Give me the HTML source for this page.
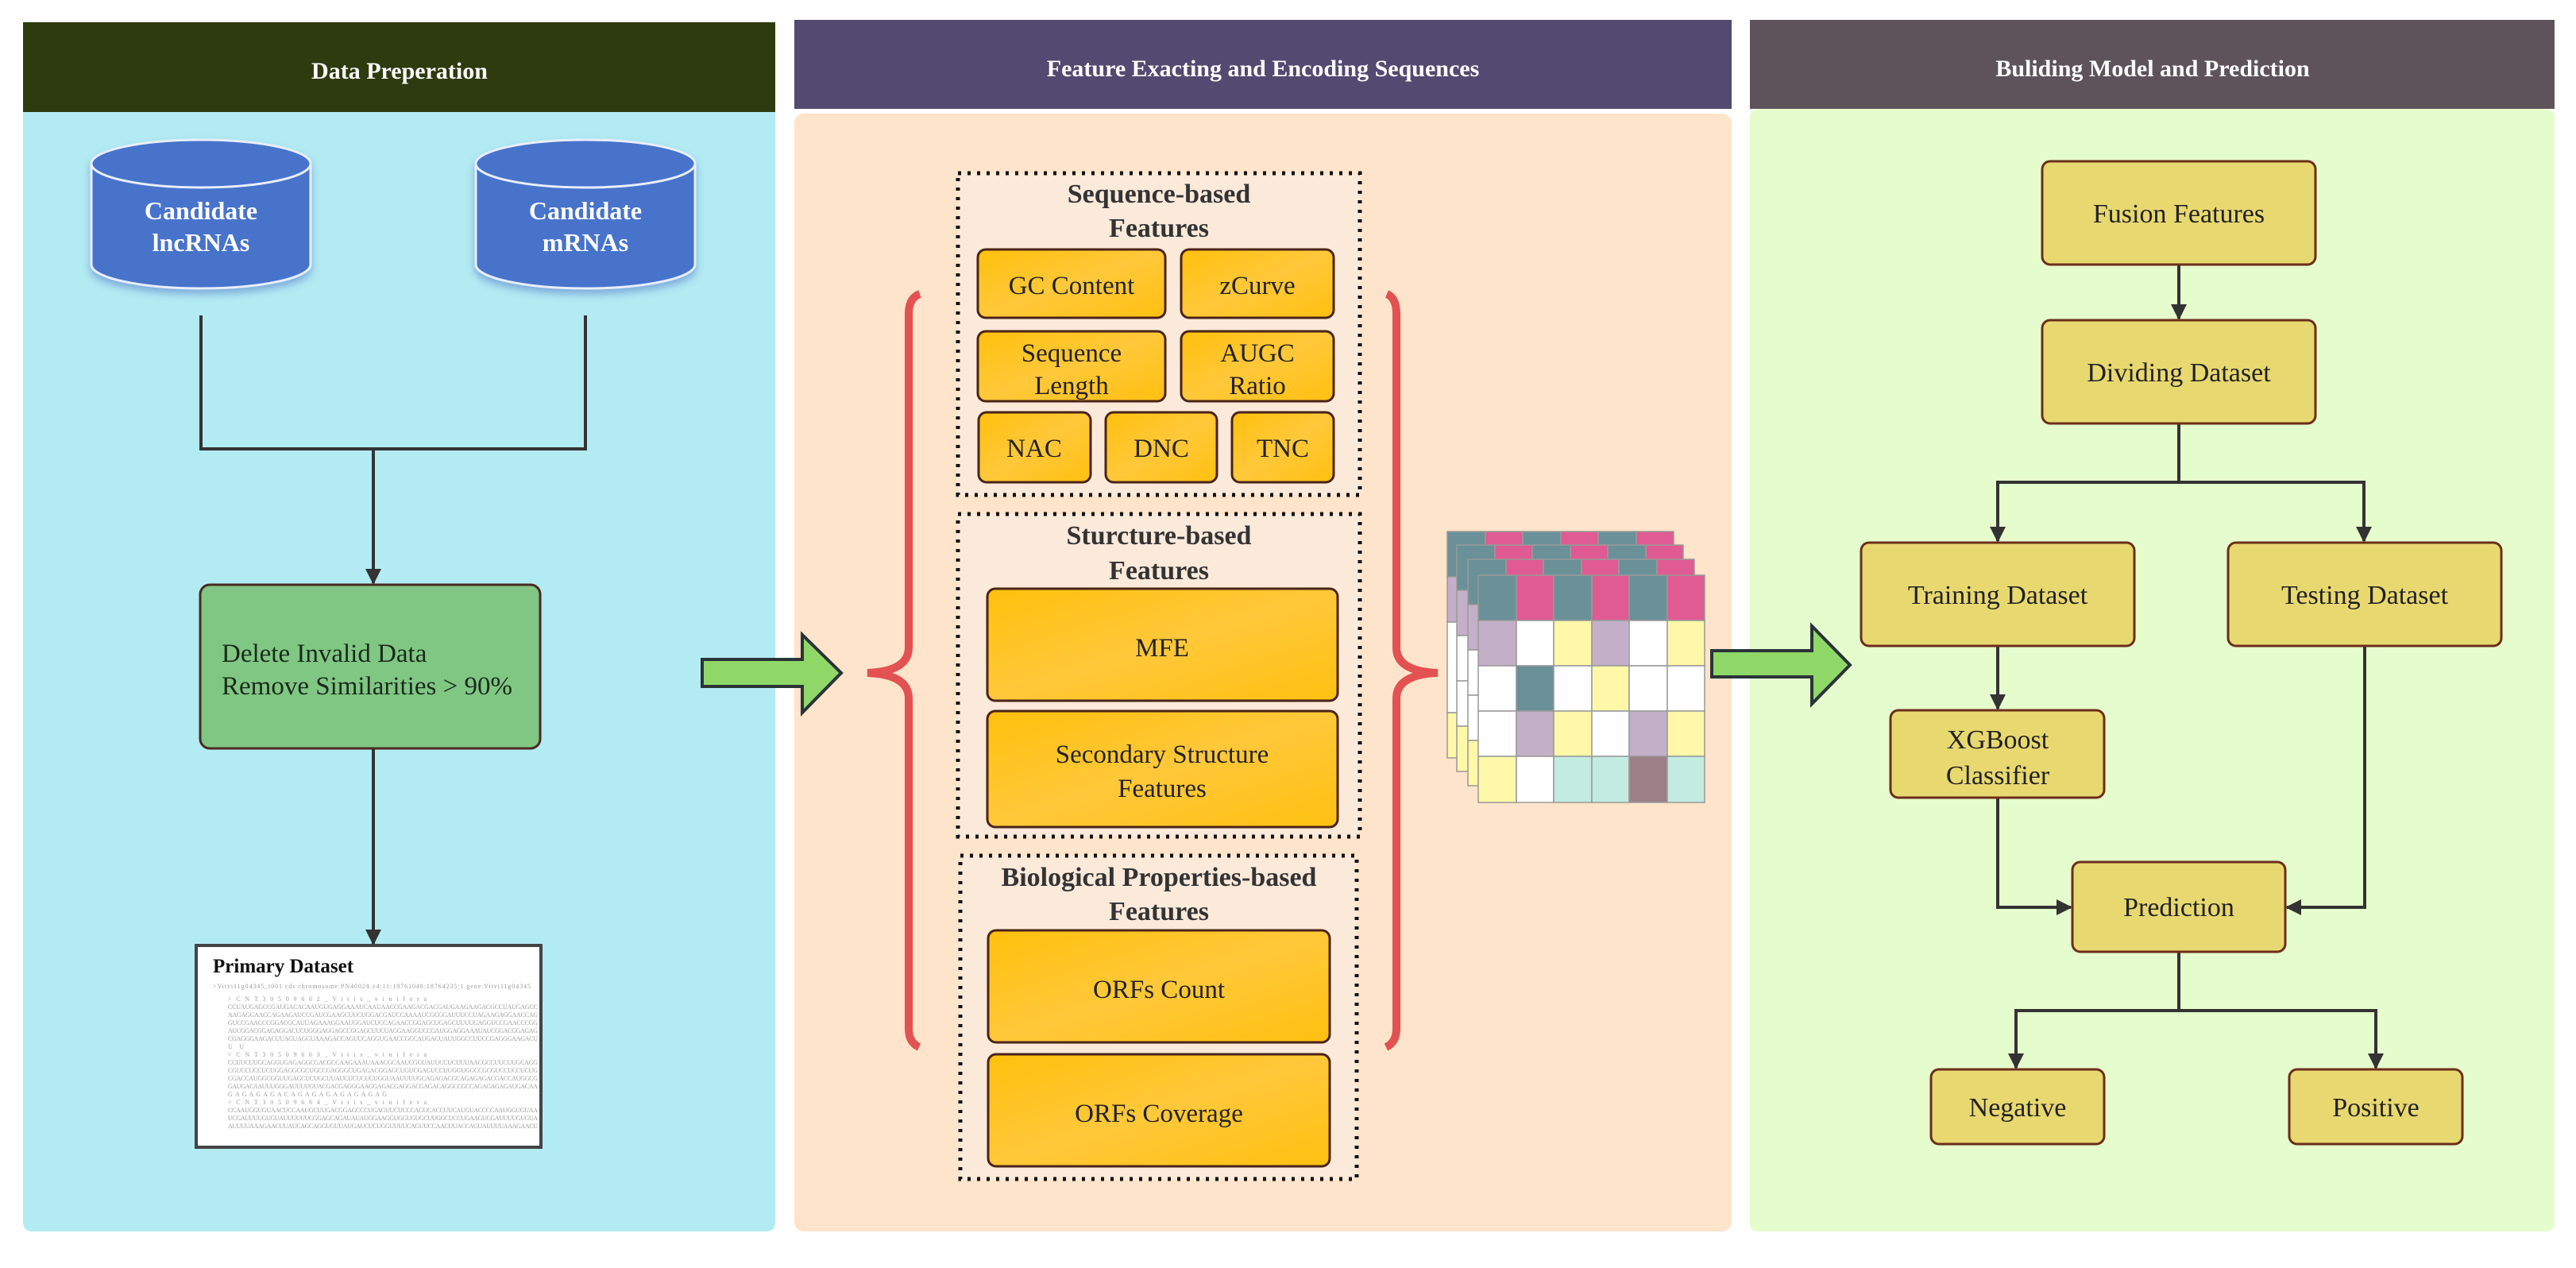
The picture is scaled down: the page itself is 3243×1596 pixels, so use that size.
<!DOCTYPE html>
<html><head><meta charset="utf-8"><style>
html,body{margin:0;padding:0;background:#fff}
svg{display:block}
svg text{font-family:"Liberation Serif","Times New Roman",Times,serif}
</style></head><body>
<svg width="3243" height="1596" viewBox="0 0 3243 1596" xmlns="http://www.w3.org/2000/svg" font-family="'Liberation Serif', 'Times New Roman', serif">
<defs>
<linearGradient id="og" x1="0" y1="0" x2="1" y2="1"><stop offset="0" stop-color="#ffc00c"/><stop offset="0.5" stop-color="#ffc83a"/><stop offset="1" stop-color="#ffc010"/></linearGradient>
<marker id="ah" viewBox="0 0 10 10" refX="9" refY="5" markerWidth="5" markerHeight="5" orient="auto" markerUnits="strokeWidth"><path d="M0,0 L10,5 L0,10 Z" fill="#333"/></marker>
<filter id="sh" x="-10%" y="-10%" width="120%" height="130%"><feDropShadow dx="0" dy="6" stdDeviation="5" flood-color="#3a5fc0" flood-opacity="0.45"/></filter>
</defs>

<rect x="29" y="28" width="947" height="113" fill="#2d3b0f"/>
<path d="M29,141 H976 V1538 Q976,1550 964,1550 H41 Q29,1550 29,1538 Z" fill="#b3ebf2"/>
<text x="503" y="99" font-size="30" font-weight="bold" fill="#fff" text-anchor="middle" font-family="'Liberation Serif', serif">Data Preperation</text>

<rect x="1000" y="25" width="1180" height="112" fill="#524a70"/>
<rect x="1000" y="143" width="1180" height="1407" rx="12" fill="#fee4ca"/>
<text x="1590" y="96" font-size="30" font-weight="bold" fill="#fff" text-anchor="middle" font-family="'Liberation Serif', serif">Feature Exacting and Encoding Sequences</text>

<rect x="2203" y="25" width="1013" height="112" fill="#5e535b"/>
<rect x="2203" y="137" width="1013" height="1413" rx="10" fill="#e5fdcc"/>
<text x="2710" y="96" font-size="30" font-weight="bold" fill="#fff" text-anchor="middle" font-family="'Liberation Serif', serif">Buliding Model and Prediction</text>

<g filter="url(#sh)" fill="#4673cb" stroke="#e8eefb" stroke-width="3">
<path d="M115,206 V333 A138,30 0 0 0 391,333 V206"/>
<ellipse cx="253" cy="206" rx="138" ry="30"/>
<path d="M599,206 V333 A138,30 0 0 0 875,333 V206"/>
<ellipse cx="737" cy="206" rx="138" ry="30"/>
</g>
<g font-size="32" font-weight="bold" fill="#fff" text-anchor="middle" font-family="'Liberation Serif', serif">
<text x="253" y="276">Candidate</text><text x="253" y="316">lncRNAs</text>
<text x="737" y="276">Candidate</text><text x="737" y="316">mRNAs</text>
</g>

<g stroke="#333" stroke-width="4" fill="none">
<path d="M253,397 V565 H737 V397"/>
<path d="M470,565 V734" marker-end="url(#ah)"/>
<path d="M470,942 V1188" marker-end="url(#ah)"/>
</g>
<rect x="252" y="736" width="428" height="206" rx="12" fill="#80c784" stroke="#4a2a22" stroke-width="3"/>
<g font-family="'Liberation Serif', serif" font-size="33" fill="#1a2a1a">
<text x="279" y="833">Delete Invalid Data</text>
<text x="279" y="874">Remove Similarities &gt; 90%</text>
</g>

<rect x="247" y="1190" width="434" height="254" fill="#fff" stroke="#444" stroke-width="4"/>
<text x="268" y="1224" font-size="25" font-weight="bold" fill="#111" font-family="'Liberation Serif', serif">Primary Dataset</text>
<g font-family="'Liberation Sans',sans-serif" font-size="8" fill="#9a9a9a">
<text x="268" y="1244" textLength="400">&gt;Vitvi11g04345_t001 cds chromosome:PN40024.v4:11:18761048:18764235:1 gene:Vitvi11g04345</text>
<text x="287" y="1260" textLength="250">&gt;CNT30509662_Vitis_vinifera</text>
<text x="287" y="1270" textLength="390">CCUAUGAGCCGAUGACACAAUGUGAGGAAAUCAAUAACCGAAGACGACGAUGAAGAAGACGCCUAUGAGCC</text>
<text x="287" y="1280" textLength="390">AAGAGGAACCAGAAGAUCCGAUCGAAGCUUCUGGACGAUCCAAAAUCGCGGAUUUCCUAGAAGAGGAACCAG</text>
<text x="287" y="1290" textLength="390">GUCCGAACCCGGACGCAUUAGAAAGGAAUGGAUCUCCAGAACCGGAGCUGAGCUUUUGAGGUCCGAACCCGG</text>
<text x="287" y="1300" textLength="390">AUCGGACGGAGAGGACUCUGGGAGGAGCCGGAGCUUCUAGGAAGGUCCGAUGGAGGAAAUAUCGGACGGAGAG</text>
<text x="287" y="1310" textLength="390">CGAGGGAAGACUUAGUAGGUAAAGACCAGUUCAGGUGAACCGCCAUGACUAUUGGCCUUCCGAGGGAAGACU</text>
<text x="287" y="1320" textLength="20">UU</text>
<text x="287" y="1330" textLength="250">&gt;CNT30509663_Vitis_vinifera</text>
<text x="287" y="1340" textLength="390">CCUUCUUGCAGGUGAGAGGCGACGCCAAGAAAUAAACGCAAUCGGUAUUCCUCUUUAACGCCUUCUUGCAGG</text>
<text x="287" y="1350" textLength="390">CGUCCUCCUCUGGAGGCGCUGCCGAGGGCUGAGACGGAGCUGUCGAGUCCUUGGUGGCCGCGUCCUCCUCUG</text>
<text x="287" y="1360" textLength="390">CGACCAUGGCGGUUGAGCUCUGCUUAUCUCUCUCUGGUAAUUUUGCAGAGACGCAGAGAGACGACCAUGGCG</text>
<text x="287" y="1370" textLength="390">GAUGACAAUUUGGGAUUUUGUACGACGAGGGAAGGAGACGAGGACGAGACAGGCCGCCAGAGAGAGAUGACAA</text>
<text x="287" y="1380" textLength="200">GAGAGAGACAGAGAGAGAGAGAG</text>
<text x="287" y="1390" textLength="250">&gt;CNT30509664_Vitis_vinifera</text>
<text x="287" y="1400" textLength="390">CCAAUGGUGUAACUCCAAUGCUUGACGGAGCCCUGAGUUCUCCCAGUCACCUUCAUGUACCCCAAUGGUGUAA</text>
<text x="287" y="1410" textLength="390">UCGAUUUUGUGUAUUUUUUCGGAGCAGAUAUAUGGAAGGUGGUGUGCUUGGCUCCUGAAGUCGAUUUUGUGUA</text>
<text x="287" y="1420" textLength="390">AUUUUAAAGAACUUAUCAGCAGGUGUUAUGAUCUCUGGUUUUCAGUUCCAACUUACCAGUAUUUUAAAGAACU</text>
</g>

<path d="M884,830 H1010 V799 L1059,847 L1010,897 V864 H884 Z" fill="#8fd868" stroke="#2a3338" stroke-width="4"/>
<path d="M2155,819 H2281 V788 L2329,837 L2281,886 V852 H2155 Z" fill="#8fd868" stroke="#2a3338" stroke-width="4"/>

<g fill="none" stroke="#e25252" stroke-width="10" stroke-linecap="butt">
<path d="M1158,370 Q1144,375 1144,395 V815 Q1144,845 1092,847 Q1144,849 1144,879 V1295 Q1144,1312 1157,1318"/>
<path d="M1746,370 Q1758,375 1758,395 V815 Q1758,845 1810,847 Q1758,849 1758,879 V1295 Q1758,1312 1745,1318"/>
</g>

<g fill="#fbe9da" stroke="#111" stroke-width="5" stroke-dasharray="4,8">
<rect x="1206" y="218" width="506" height="405"/>
<rect x="1206" y="647" width="506" height="406"/>
<rect x="1209" y="1077" width="499" height="407"/>
</g>
<g font-size="34" font-weight="bold" fill="#333" text-anchor="middle" font-family="'Liberation Serif', serif">
<text x="1459" y="255">Sequence-based</text><text x="1459" y="298">Features</text>
<text x="1459" y="685">Sturcture-based</text><text x="1459" y="729">Features</text>
<text x="1459" y="1115">Biological Properties-based</text><text x="1459" y="1158">Features</text>
</g>
<g fill="url(#og)" stroke="#4a2418" stroke-width="3">
<rect x="1231" y="314" width="236" height="86" rx="10"/>
<rect x="1487" y="314" width="192" height="86" rx="10"/>
<rect x="1231" y="417" width="236" height="88" rx="10"/>
<rect x="1487" y="417" width="192" height="88" rx="10"/>
<rect x="1232" y="519" width="141" height="88" rx="10"/>
<rect x="1392" y="519" width="140" height="88" rx="10"/>
<rect x="1551" y="519" width="128" height="88" rx="10"/>
<rect x="1243" y="741" width="441" height="141" rx="10"/>
<rect x="1243" y="895" width="441" height="146" rx="10"/>
<rect x="1244" y="1171" width="430" height="141" rx="10"/>
<rect x="1244" y="1327" width="430" height="141" rx="10"/>
</g>
<g font-size="33" fill="#222" text-anchor="middle" font-family="'Liberation Serif', serif">
<text x="1349" y="370">GC Content</text>
<text x="1583" y="370">zCurve</text>
<text x="1349" y="455">Sequence</text><text x="1349" y="496">Length</text>
<text x="1583" y="455">AUGC</text><text x="1583" y="496">Ratio</text>
<text x="1302" y="575">NAC</text>
<text x="1462" y="575">DNC</text>
<text x="1615" y="575">TNC</text>
<text x="1463" y="826">MFE</text>
<text x="1463" y="960">Secondary Structure</text><text x="1463" y="1003">Features</text>
<text x="1459" y="1256">ORFs Count</text>
<text x="1459" y="1412">ORFs Coverage</text>
</g>

<g stroke="#999" stroke-width="1.5">
<g transform="translate(1822,669)">
<rect x="0" y="0" width="48" height="57" fill="#6a9098"/><rect x="48" y="0" width="47" height="57" fill="#e05a93"/><rect x="95" y="0" width="48" height="57" fill="#6a9098"/><rect x="143" y="0" width="47" height="57" fill="#e05a93"/><rect x="190" y="0" width="48" height="57" fill="#6a9098"/><rect x="238" y="0" width="47" height="57" fill="#e05a93"/>
<rect x="0" y="57" width="285" height="57" fill="#c3b0c8"/><rect x="0" y="114" width="285" height="114" fill="#fff"/><rect x="0" y="228" width="285" height="57" fill="#fff8a8"/>
</g>
<g transform="translate(1834,686)">
<rect x="0" y="0" width="48" height="57" fill="#6a9098"/><rect x="48" y="0" width="47" height="57" fill="#e05a93"/><rect x="95" y="0" width="48" height="57" fill="#6a9098"/><rect x="143" y="0" width="47" height="57" fill="#e05a93"/><rect x="190" y="0" width="48" height="57" fill="#6a9098"/><rect x="238" y="0" width="47" height="57" fill="#e05a93"/>
<rect x="0" y="57" width="285" height="57" fill="#c3b0c8"/><rect x="0" y="114" width="285" height="57" fill="#fff"/><rect x="0" y="171" width="285" height="57" fill="#fff"/><rect x="0" y="228" width="285" height="57" fill="#fff8a8"/>
</g>
<g transform="translate(1848,704)">
<rect x="0" y="0" width="48" height="57" fill="#6a9098"/><rect x="48" y="0" width="47" height="57" fill="#e05a93"/><rect x="95" y="0" width="48" height="57" fill="#6a9098"/><rect x="143" y="0" width="47" height="57" fill="#e05a93"/><rect x="190" y="0" width="48" height="57" fill="#6a9098"/><rect x="238" y="0" width="47" height="57" fill="#e05a93"/>
<rect x="0" y="57" width="285" height="57" fill="#c3b0c8"/><rect x="0" y="114" width="285" height="57" fill="#fff"/><rect x="0" y="171" width="285" height="57" fill="#fff"/><rect x="0" y="228" width="285" height="57" fill="#fff8a8"/>
</g>
<g transform="translate(1861,724)">
<rect x="0" y="0" width="48" height="57" fill="#6a9098"/><rect x="48" y="0" width="47" height="57" fill="#e05a93"/><rect x="95" y="0" width="48" height="57" fill="#6a9098"/><rect x="143" y="0" width="47" height="57" fill="#e05a93"/><rect x="190" y="0" width="48" height="57" fill="#6a9098"/><rect x="238" y="0" width="47" height="57" fill="#e05a93"/>
<rect x="0" y="57" width="48" height="57" fill="#c3b0c8"/><rect x="48" y="57" width="47" height="57" fill="#fff"/><rect x="95" y="57" width="48" height="57" fill="#fff8a8"/><rect x="143" y="57" width="47" height="57" fill="#c3b0c8"/><rect x="190" y="57" width="48" height="57" fill="#fff"/><rect x="238" y="57" width="47" height="57" fill="#fff8a8"/>
<rect x="0" y="114" width="48" height="57" fill="#fff"/><rect x="48" y="114" width="47" height="57" fill="#6a9098"/><rect x="95" y="114" width="48" height="57" fill="#fff"/><rect x="143" y="114" width="47" height="57" fill="#fff8a8"/><rect x="190" y="114" width="48" height="57" fill="#fff"/><rect x="238" y="114" width="47" height="57" fill="#fff"/>
<rect x="0" y="171" width="48" height="57" fill="#fff"/><rect x="48" y="171" width="47" height="57" fill="#c3b0c8"/><rect x="95" y="171" width="48" height="57" fill="#fff8a8"/><rect x="143" y="171" width="47" height="57" fill="#fff"/><rect x="190" y="171" width="48" height="57" fill="#c3b0c8"/><rect x="238" y="171" width="47" height="57" fill="#fff8a8"/>
<rect x="0" y="228" width="48" height="58" fill="#fff8a8"/><rect x="48" y="228" width="47" height="58" fill="#fff"/><rect x="95" y="228" width="48" height="58" fill="#c2ece0"/><rect x="143" y="228" width="47" height="58" fill="#c2ece0"/><rect x="190" y="228" width="48" height="58" fill="#9c8088"/><rect x="238" y="228" width="47" height="58" fill="#c2ece0"/>
</g>
</g>

<g stroke="#333" stroke-width="4" fill="none">
<path d="M2743,333 V401" marker-end="url(#ah)"/>
<path d="M2743,533 V607 H2515 V681" marker-end="url(#ah)"/>
<path d="M2743,607 H2976 V681" marker-end="url(#ah)"/>
<path d="M2515,813 V892" marker-end="url(#ah)"/>
<path d="M2515,1004 V1142 H2607" marker-end="url(#ah)"/>
<path d="M2977,813 V1142 H2879" marker-end="url(#ah)"/>
<path d="M2743,1198 V1272 H2538 V1344" marker-end="url(#ah)"/>
<path d="M2743,1272 H2991 V1344" marker-end="url(#ah)"/>
</g>
<g fill="#e8d870" stroke="#6b2e1a" stroke-width="3">
<rect x="2571" y="203" width="344" height="130" rx="10"/>
<rect x="2571" y="403" width="344" height="130" rx="10"/>
<rect x="2343" y="683" width="344" height="130" rx="10"/>
<rect x="2805" y="683" width="344" height="130" rx="10"/>
<rect x="2380" y="894" width="269" height="110" rx="10"/>
<rect x="2609" y="1085" width="268" height="113" rx="10"/>
<rect x="2431" y="1346" width="218" height="94" rx="10"/>
<rect x="2882" y="1346" width="218" height="94" rx="10"/>
</g>
<g font-size="34" fill="#222" text-anchor="middle" font-family="'Liberation Serif', serif">
<text x="2743" y="280">Fusion Features</text>
<text x="2743" y="480">Dividing Dataset</text>
<text x="2515" y="760">Training Dataset</text>
<text x="2977" y="760">Testing Dataset</text>
<text x="2515" y="942">XGBoost</text><text x="2515" y="987">Classifier</text>
<text x="2743" y="1153">Prediction</text>
<text x="2540" y="1405">Negative</text>
<text x="2991" y="1405">Positive</text>
</g>
</svg>
</body></html>
